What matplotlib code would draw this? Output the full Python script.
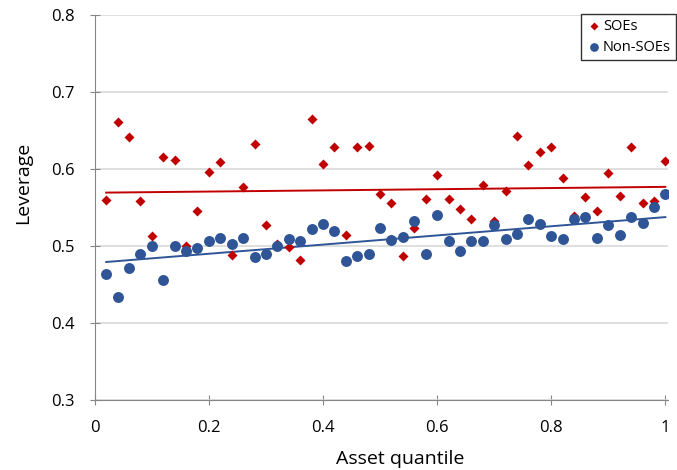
import numpy as np
import matplotlib
matplotlib.use("Agg")
import matplotlib.pyplot as plt

plt.rcParams['font.family'] = ['Open Sans', 'DejaVu Sans']

# asset quantiles 0.02 .. 1.00
quantile = [0.02, 0.04, 0.06, 0.08, 0.10, 0.12, 0.14, 0.16, 0.18, 0.20,
            0.22, 0.24, 0.26, 0.28, 0.30, 0.32, 0.34, 0.36, 0.38, 0.40,
            0.42, 0.44, 0.46, 0.48, 0.50, 0.52, 0.54, 0.56, 0.58, 0.60,
            0.62, 0.64, 0.66, 0.68, 0.70, 0.72, 0.74, 0.76, 0.78, 0.80,
            0.82, 0.84, 0.86, 0.88, 0.90, 0.92, 0.94, 0.96, 0.98, 1.00]

soe_lev = [0.560, 0.661, 0.642, 0.559, 0.513, 0.616, 0.612, 0.500, 0.545, 0.596,
           0.609, 0.488, 0.577, 0.632, 0.527, 0.502, 0.499, 0.482, 0.665, 0.607,
           0.628, 0.514, 0.629, 0.630, 0.567, 0.556, 0.487, 0.524, 0.561, 0.592,
           0.561, 0.548, 0.535, 0.579, 0.533, 0.571, 0.643, 0.605, 0.622, 0.629,
           0.588, 0.539, 0.563, 0.545, 0.595, 0.565, 0.629, 0.556, 0.558, 0.610]

nonsoe_lev = [0.463, 0.434, 0.471, 0.490, 0.500, 0.456, 0.500, 0.494, 0.498, 0.506,
              0.510, 0.503, 0.510, 0.486, 0.490, 0.500, 0.509, 0.506, 0.522, 0.528,
              0.520, 0.480, 0.487, 0.490, 0.524, 0.508, 0.512, 0.532, 0.490, 0.540,
              0.506, 0.493, 0.506, 0.507, 0.527, 0.509, 0.516, 0.535, 0.528, 0.513,
              0.509, 0.535, 0.538, 0.510, 0.527, 0.514, 0.538, 0.530, 0.551, 0.568]

red = "#C00000"
blue = "#2F5597"

x = np.array(quantile)
fig = plt.figure(figsize=(6.77, 4.70), dpi=100)
ax = fig.add_axes([0.140, 0.149, 0.847, 0.819])

ax.scatter(x, soe_lev, marker="D", s=26, color=red, label="SOEs", zorder=3, linewidths=0)
ax.scatter(x, nonsoe_lev, marker="o", s=62, color=blue, label="Non-SOEs", zorder=4, linewidths=0)

# linear trend lines
for y, c in [(soe_lev, red), (nonsoe_lev, blue)]:
    k, b = np.polyfit(x, y, 1)
    ax.plot([x[0], x[-1]], [k * x[0] + b, k * x[-1] + b], color=c, lw=1.4, zorder=2)

ax.set_xlim(0, 1.005)
ax.set_ylim(0.3, 0.8)
ax.set_xticks([0, 0.2, 0.4, 0.6, 0.8, 1])
ax.set_xticklabels(["0", "0.2", "0.4", "0.6", "0.8", "1"])
ax.set_yticks([0.3, 0.4, 0.5, 0.6, 0.7, 0.8])
ax.yaxis.grid(True, color="#D9D9D9", lw=1.2)
ax.set_axisbelow(True)
for s in ["top", "right"]:
    ax.spines[s].set_visible(False)
for s in ["left", "bottom"]:
    ax.spines[s].set_color("#868686")
ax.tick_params(colors="#868686", labelcolor="black", labelsize=12, length=7,
               direction="inout", pad=11)

ax.set_xlabel("Asset quantile", fontsize=14)
ax.set_ylabel("Leverage", fontsize=14)
ax.xaxis.set_label_coords(0.532, -0.13)
ax.yaxis.set_label_coords(-0.11, 0.564)

leg = ax.legend(loc="upper right", bbox_to_anchor=(1.014, 1.003), fontsize=10.5, frameon=True,
                fancybox=False, handletextpad=0.0, borderpad=0.35, labelspacing=0.4,
                handlelength=1.2, markerscale=0.8, borderaxespad=0.0)
leg.get_frame().set_edgecolor("black")
leg.get_frame().set_linewidth(1.0)

fig.savefig("out.png", dpi=100)
